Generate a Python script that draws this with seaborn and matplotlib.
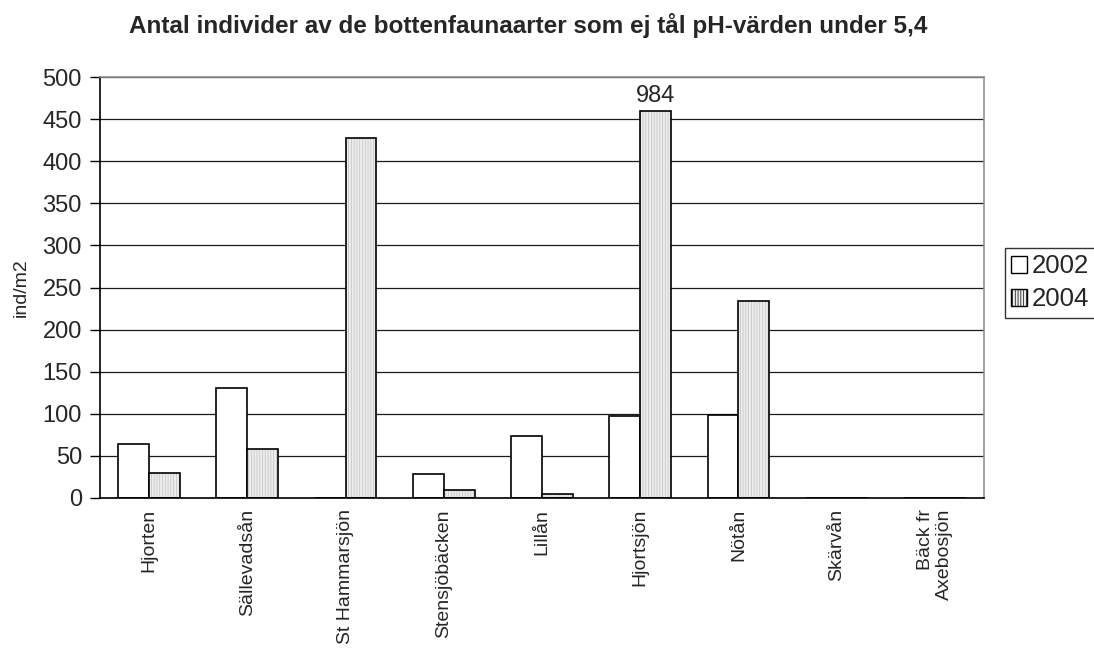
import numpy as np
import pandas as pd
import matplotlib
matplotlib.use("Agg")
import matplotlib.pyplot as plt
from matplotlib.patches import Rectangle, Patch
import seaborn as sns

# ---- data ----
categories = ["Hjorten", "Sällevadsån", "St Hammarsjön", "Stensjöbäcken", "Lillån",
              "Hjortsjön", "Nötån", "Skärvån", "Bäck fr\nAxebosjön"]
years = ["2002", "2004"]
values_2002 = [64, 131, 0, 28, 74, 97, 99, 0, 0]
values_2004 = [30, 58, 428, 10, 5, 984, 234, 0, 0]
title = "Antal individer av de bottenfaunaarter som ej tål pH-värden under 5,4"
ylabel = "ind/m2"
yticks = list(range(0, 501, 50))
display_cap = 460  # bars above the axis range are drawn cut off, value printed above

sns.set_style("white")
plt.rcParams["font.family"] = ["Liberation Sans", "DejaVu Sans"]
plt.rcParams["hatch.linewidth"] = 0.5

df = pd.DataFrame({
    "site": categories * 2,
    "year": [years[0]] * len(categories) + [years[1]] * len(categories),
    "value": values_2002 + values_2004,
})
df["shown"] = np.minimum(df["value"], display_cap)

fig = plt.figure(figsize=(10.94, 6.51), dpi=100)
ax = fig.add_axes([100 / 1094, 1 - 498 / 651, 884 / 1094, 421 / 651])

fill_2004 = "#ececec"
sns.barplot(data=df, x="site", y="shown", hue="year", order=categories, hue_order=years,
            palette={"2002": "white", "2004": fill_2004}, width=0.63, gap=0,
            edgecolor="black", linewidth=1.2, ax=ax, legend=False, errorbar=None)

# fine stipple on the 2004 bars, with black outline on top
for p in ax.containers[1].patches:
    p.set_hatch("||||||")
    p.set_edgecolor("#c2c2c2")
    p.set_linewidth(0)
    ax.add_patch(Rectangle(p.get_xy(), p.get_width(), p.get_height(), fill=False,
                           edgecolor="black", linewidth=1.2, zorder=p.get_zorder() + 0.1))

# value label on the cut-off bar
for p, v in zip(ax.containers[1].patches, values_2004):
    if v > display_cap:
        ax.text(p.get_x() + p.get_width() / 2, p.get_height() + 4, f"{v}",
                ha="center", va="bottom", fontsize=17)

ax.set_ylim(0, 500)
ax.set_xlim(-0.5, len(categories) - 0.5)
ax.set_yticks(yticks)
ax.yaxis.grid(True, color="#1a1a1a", linewidth=0.9)
ax.set_axisbelow(True)
ax.tick_params(axis="y", length=7, width=1, color="black", labelsize=17, pad=6, left=True)
ax.tick_params(axis="x", length=0, pad=8)
ax.set_xticks(range(len(categories)))
ax.set_xticklabels(categories, rotation=90, ha="center", va="top",
                   multialignment="right", fontsize=14)
ax.set_xlabel("")
ax.set_ylabel(ylabel, fontsize=14)
ax.yaxis.set_label_coords(-0.079, 0.5)

for s in ["left", "bottom"]:
    ax.spines[s].set_color("black")
    ax.spines[s].set_linewidth(1.2)
for s in ["top", "right"]:
    ax.spines[s].set_color("#909090")
    ax.spines[s].set_linewidth(1.2)

handles = [Patch(facecolor="white", edgecolor="black", linewidth=1.0),
           Patch(facecolor=fill_2004, edgecolor="black", linewidth=1.0, hatch="||||||")]
leg = fig.legend(handles, years, loc="upper left", bbox_to_anchor=(1005 / 1094, 1 - 248 / 651),
                 fontsize=18.5, frameon=True, fancybox=False, edgecolor="black",
                 handlelength=0.6, handleheight=0.6, handletextpad=0.2,
                 borderpad=0.25, labelspacing=0.35, borderaxespad=0)
leg.get_frame().set_linewidth(1.0)

fig.text(528 / 1094, 1 - 33 / 651, title, ha="center", va="baseline",
         fontsize=17.5, fontweight="bold")

fig.savefig("out.png", dpi=100, facecolor="white")
